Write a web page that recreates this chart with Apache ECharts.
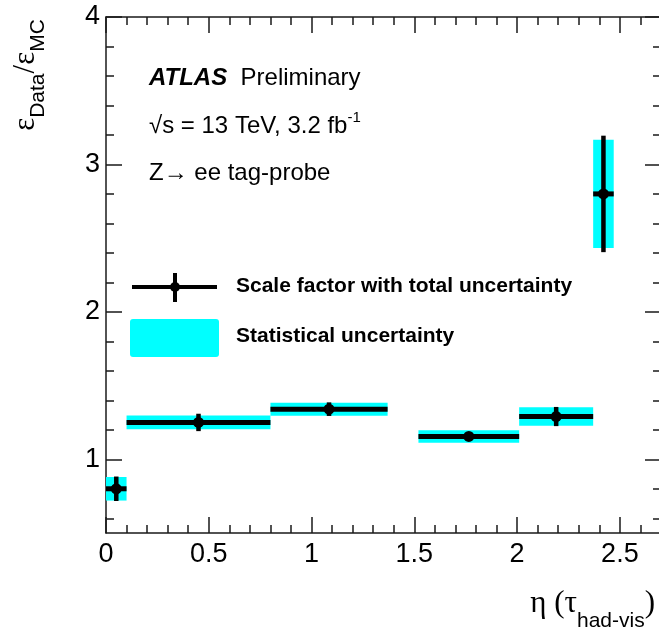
<!DOCTYPE html>
<html><head><meta charset="utf-8">
<script src="https://cdn.jsdelivr.net/npm/echarts@6/dist/echarts.min.js"></script>
<style>html,body{margin:0;padding:0;background:#fff}#c{width:659px;height:630px}</style>
</head><body><div id="c"></div>
<script>
// ---- data ----
const binLow = [0, 0.1, 0.8, 1.52, 2.01, 2.37];
const binHigh = [0.1, 0.8, 1.37, 2.01, 2.37, 2.47];
const etaCenter = [0.05, 0.45, 1.085, 1.765, 2.19, 2.42];
const scaleFactor = [0.80, 1.25, 1.34, 1.155, 1.29, 2.80];
const statErr = [0.08, 0.047, 0.044, 0.042, 0.063, 0.367];
const totalErr = [0.083, 0.059, 0.046, 0.03, 0.065, 0.395];
const xMajorTicks = [0, 0.5, 1, 1.5, 2, 2.5];
const xMinorTicks = [0.1,0.2,0.3,0.4,0.6,0.7,0.8,0.9,1.1,1.2,1.3,1.4,1.6,1.7,1.8,1.9,2.1,2.2,2.3,2.4,2.6];
const yMajorTicks = [1, 2, 3, 4];
const yMinorTicks = [0.6,0.8,1.2,1.4,1.6,1.8,2.2,2.4,2.6,2.8,3.2,3.4,3.6,3.8];
const xTickLabels = ['0', '0.5', '1', '1.5', '2', '2.5'];
const yTickLabels = ['1', '2', '3', '4'];

const SANS = "'Liberation Sans', Arial, Helvetica, sans-serif";
const SERIF = "'Liberation Serif', 'Times New Roman', serif";
const AX = '#1a1a1a';
const CYAN = '#00ffff';

const rows = binLow.map((lo, i) => [lo, binHigh[i], etaCenter[i], scaleFactor[i], statErr[i], totalErr[i]]);

function xAxisDef(pos, ticks, len, withLabels, withLine) {
  return {
    type: 'value', min: 0, max: 2.7, position: pos,
    axisLine: { show: withLine, onZero: false, lineStyle: { color: AX, width: 1.5 } },
    axisTick: { show: true, inside: true, length: len, customValues: ticks, lineStyle: { color: AX, width: 1.5 } },
    axisLabel: withLabels ? {
      show: true, customValues: xMajorTicks, margin: 8, fontSize: 27, fontFamily: SANS, color: '#000',
      formatter: v => xTickLabels[xMajorTicks.findIndex(t => Math.abs(t - v) < 1e-9)]
    } : { show: false },
    splitLine: { show: false }
  };
}
function yAxisDef(pos, ticks, len, withLabels, withLine) {
  return {
    type: 'value', min: 0.5, max: 4, position: pos,
    axisLine: { show: withLine, onZero: false, lineStyle: { color: AX, width: 1.5 } },
    axisTick: { show: true, inside: true, length: len, customValues: ticks, lineStyle: { color: AX, width: 1.5 } },
    axisLabel: withLabels ? {
      show: true, customValues: yMajorTicks, margin: 6, fontSize: 27, fontFamily: SANS, color: '#000',
      padding: [5, 0, 0, 0],
      formatter: v => yTickLabels[yMajorTicks.findIndex(t => Math.abs(t - v) < 1e-9)]
    } : { show: false },
    splitLine: { show: false }
  };
}

const chart = echarts.init(document.getElementById('c'), null, { renderer: 'canvas' });
chart.setOption({
  animation: false,
  backgroundColor: '#fff',
  grid: { left: 106, top: 17, right: -2, bottom: 97, containLabel: false, outerBoundsMode: 'none' },
  xAxis: [
    xAxisDef('bottom', xMajorTicks, 16, true, true),
    xAxisDef('bottom', xMinorTicks, 8, false, false),
    xAxisDef('top', xMajorTicks, 16, false, true),
    xAxisDef('top', xMinorTicks, 8, false, false)
  ],
  yAxis: [
    yAxisDef('left', yMajorTicks, 16, true, true),
    yAxisDef('left', yMinorTicks, 8, false, false),
    yAxisDef('right', yMajorTicks, 16, false, true),
    yAxisDef('right', yMinorTicks, 8, false, false)
  ],
  series: [
    {
      type: 'custom', name: 'Statistical uncertainty', xAxisIndex: 0, yAxisIndex: 0,
      data: rows, encode: { x: [0, 1, 2], y: [3] },
      renderItem: function (params, api) {
        const p1 = api.coord([api.value(0), api.value(3) + api.value(4)]);
        const p2 = api.coord([api.value(1), api.value(3) - api.value(4)]);
        return { type: 'rect', shape: { x: p1[0], y: p1[1], width: p2[0] - p1[0], height: p2[1] - p1[1] }, style: { fill: CYAN } };
      }
    },
    {
      type: 'custom', name: 'Scale factor with total uncertainty', xAxisIndex: 0, yAxisIndex: 0,
      data: rows, encode: { x: [0, 1, 2], y: [3] },
      renderItem: function (params, api) {
        const l = api.coord([api.value(0), api.value(3)]);
        const r = api.coord([api.value(1), api.value(3)]);
        const c = api.coord([api.value(2), api.value(3)]);
        const t = api.coord([api.value(2), api.value(3) + api.value(5)]);
        const b = api.coord([api.value(2), api.value(3) - api.value(5)]);
        return {
          type: 'group', children: [
            { type: 'line', shape: { x1: l[0], y1: l[1], x2: r[0], y2: r[1] }, style: { stroke: '#000', lineWidth: 5 } },
            { type: 'line', shape: { x1: t[0], y1: t[1], x2: b[0], y2: b[1] }, style: { stroke: '#000', lineWidth: 4.5 } },
            { type: 'circle', shape: { cx: c[0], cy: c[1], r: 5.5 }, style: { fill: '#000' } }
          ]
        };
      }
    }
  ],
  graphic: [
    // y-axis title
    { type: 'text', x: 29.5, y: 75, rotation: Math.PI / 2,
      style: { text: '{e|ε}{s|Data}{e|/ε}{s|MC}', align: 'center', verticalAlign: 'middle', fill: '#000',
        rich: {
          e: { fontSize: 31, fontFamily: SERIF, lineHeight: 39, verticalAlign: 'top', fill: '#000' },
          s: { fontSize: 21, fontFamily: SANS, verticalAlign: 'bottom', fill: '#000' }
        } } },
    // x-axis title
    { type: 'text', x: 655, y: 610,
      style: { text: '{m|η (τ}{s|had-vis}{m|)}', align: 'right', verticalAlign: 'middle', fill: '#000',
        rich: {
          m: { fontSize: 31, fontFamily: SERIF, lineHeight: 44, verticalAlign: 'top', fill: '#000' },
          s: { fontSize: 21, fontFamily: SANS, verticalAlign: 'bottom', fill: '#000' }
        } } },
    // ATLAS label
    { type: 'text', x: 149, y: 90,
      style: { text: '{a|ATLAS}{p|  Preliminary}', verticalAlign: 'bottom', fill: '#000',
        rich: {
          a: { fontSize: 24, fontFamily: SANS, fontWeight: 'bold', fontStyle: 'italic', fill: '#000' },
          p: { fontSize: 24, fontFamily: SANS, fill: '#000' }
        } } },
    { type: 'text', x: 149, y: 110,
      style: { text: '{m|√s = 13 TeV, 3.2 fb}{u|-1}', verticalAlign: 'top', fill: '#000',
        rich: {
          m: { fontSize: 24, fontFamily: SANS, lineHeight: 28, padding: [6, 0, 0, 0], verticalAlign: 'bottom', fill: '#000' },
          u: { fontSize: 15, fontFamily: SANS, lineHeight: 18, verticalAlign: 'top', fill: '#000' }
        } } },
    { type: 'text', x: 149, y: 173,
      style: { text: 'Z→ ee tag-probe', fontSize: 24, fontFamily: SANS, verticalAlign: 'middle', fill: '#000' } },
    // legend
    { type: 'line', shape: { x1: 132, y1: 287, x2: 217, y2: 287 }, style: { stroke: '#000', lineWidth: 4 } },
    { type: 'line', shape: { x1: 175, y1: 273, x2: 175, y2: 302 }, style: { stroke: '#000', lineWidth: 4 } },
    { type: 'circle', shape: { cx: 175, cy: 287, r: 5 }, style: { fill: '#000' } },
    { type: 'text', x: 236, y: 286,
      style: { text: 'Scale factor with total uncertainty', fontSize: 21, fontWeight: 'bold', fontFamily: SANS, verticalAlign: 'middle', fill: '#000' } },
    { type: 'rect', shape: { x: 130, y: 319, width: 89, height: 38, r: 3 }, style: { fill: CYAN } },
    { type: 'text', x: 236, y: 336,
      style: { text: 'Statistical uncertainty', fontSize: 21, fontWeight: 'bold', fontFamily: SANS, verticalAlign: 'middle', fill: '#000' } }
  ]
});
</script>
</body></html>
